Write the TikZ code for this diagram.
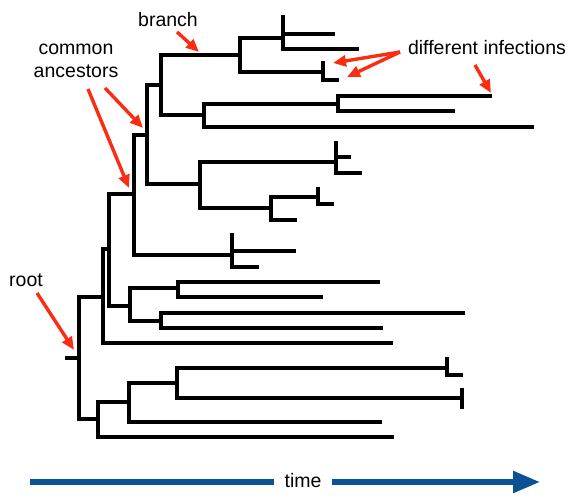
\documentclass[tikz,border=0pt]{standalone}
\usepackage{fontspec}
\setmainfont{Liberation Sans}
\usetikzlibrary{arrows.meta}
\definecolor{callred}{RGB}{250,45,18}
\definecolor{timeblue}{RGB}{10,82,148}
\tikzset{
  tree/.style={line width=3.3pt, line cap=rect, black},
  callout/.style={line width=3.4pt, callred, -{Triangle[length=13pt,width=11pt]}},
  timeline/.style={line width=5.5pt, timeblue},
  lbl/.style={font=\fontsize{19.5}{23}\selectfont, inner sep=0pt, anchor=base},
}
\begin{document}
\begin{tikzpicture}[x=1pt,y=-1pt]
\useasboundingbox (0,0) rectangle (578,502);
% ---------- tree coordinates ----------
\coordinate (r0) at (67,358);
\coordinate (R) at (79,358);
\coordinate (A) at (103,297);
\coordinate (B) at (109,249);
\coordinate (C) at (134,194);
\coordinate (D) at (147,135);
\coordinate (E) at (161,85);
\coordinate (F) at (240,55);
\coordinate (G) at (283,38);
\coordinate (g0) at (283,17);
\coordinate (g1) at (333,34);
\coordinate (g2) at (357,49);
\coordinate (H) at (323,72);
\coordinate (h0) at (323,63);
\coordinate (h1) at (337,80);
\coordinate (I) at (204,115);
\coordinate (J) at (338,104);
\coordinate (j1) at (490,96);
\coordinate (j2) at (453,111);
\coordinate (i2) at (532,127);
\coordinate (K) at (200,184);
\coordinate (L) at (336,162);
\coordinate (l0) at (336,143);
\coordinate (l1) at (349,157);
\coordinate (l2) at (360,173);
\coordinate (M) at (271,208);
\coordinate (N) at (318,197);
\coordinate (n0) at (318,189);
\coordinate (n1) at (332,204);
\coordinate (m2) at (295,220);
\coordinate (O) at (232,255);
\coordinate (o0) at (232,235);
\coordinate (o1) at (294,251);
\coordinate (o2) at (257,267);
\coordinate (P) at (130,306);
\coordinate (Q) at (178,288);
\coordinate (q1) at (378,282);
\coordinate (q2) at (321,297);
\coordinate (S) at (161,321);
\coordinate (s1) at (463,313);
\coordinate (s2) at (381,328);
\coordinate (a2) at (391,343);
\coordinate (T) at (98,419);
\coordinate (U) at (129,402);
\coordinate (V) at (177,383);
\coordinate (W) at (447,368);
\coordinate (w0) at (447,359);
\coordinate (w1) at (461,375);
\coordinate (X) at (462,398);
\coordinate (x0) at (462,390);
\coordinate (x1) at (462,407);
\coordinate (u2) at (380,422);
\coordinate (t2) at (392,437);
% ---------- tree drawing ----------
\draw[tree] (r0) -- (R);
\draw[tree] (R|-A) -- (R|-T) (R|-A) -- (A) (R|-T) -- (T);
\draw[tree] (A|-B) -- (A|-a2) (A|-B) -- (B) (A|-a2) -- (a2);
\draw[tree] (B|-C) -- (B|-P) (B|-C) -- (C) (B|-P) -- (P);
\draw[tree] (C|-D) -- (C|-O) (C|-D) -- (D) (C|-O) -- (O);
\draw[tree] (D|-E) -- (D|-K) (D|-E) -- (E) (D|-K) -- (K);
\draw[tree] (E|-F) -- (E|-I) (E|-F) -- (F) (E|-I) -- (I);
\draw[tree] (F|-G) -- (F|-H) (F|-G) -- (G) (F|-H) -- (H);
\draw[tree] (g0) -- (G|-g2) (G|-g1) -- (g1) (G|-g2) -- (g2);
\draw[tree] (h0) -- (H|-h1) (H|-h1) -- (h1);
\draw[tree] (I|-J) -- (I|-i2) (I|-J) -- (J) (I|-i2) -- (i2);
\draw[tree] (J|-j1) -- (J|-j2) (J|-j1) -- (j1) (J|-j2) -- (j2);
\draw[tree] (K|-L) -- (K|-M) (K|-L) -- (L) (K|-M) -- (M);
\draw[tree] (l0) -- (L|-l2) (L|-l1) -- (l1) (L|-l2) -- (l2);
\draw[tree] (M|-N) -- (M|-m2) (M|-N) -- (N) (M|-m2) -- (m2);
\draw[tree] (n0) -- (N|-n1) (N|-n1) -- (n1);
\draw[tree] (o0) -- (O|-o2) (O|-o1) -- (o1) (O|-o2) -- (o2);
\draw[tree] (P|-Q) -- (P|-S) (P|-Q) -- (Q) (P|-S) -- (S);
\draw[tree] (Q|-q1) -- (Q|-q2) (Q|-q1) -- (q1) (Q|-q2) -- (q2);
\draw[tree] (S|-s1) -- (S|-s2) (S|-s1) -- (s1) (S|-s2) -- (s2);
\draw[tree] (T|-U) -- (T|-t2) (T|-U) -- (U) (T|-t2) -- (t2);
\draw[tree] (U|-V) -- (U|-u2) (U|-V) -- (V) (U|-u2) -- (u2);
\draw[tree] (V|-W) -- (V|-X) (V|-W) -- (W) (V|-X) -- (X);
\draw[tree] (w0) -- (W|-w1) (W|-w1) -- (w1);
\draw[tree] (x0) -- (x1);
% ---------- labels ----------
\node[lbl] (branch) at (168,27) {branch};
\node[lbl] (common) at (76,55) {common};
\node[lbl] (ancestors) at (76,78) {ancestors};
\node[lbl] (diff) at (487,55) {different infections};
\node[lbl] (root) at (26,287) {root};
% ---------- callout arrows ----------
\coordinate (bt) at (177,32);   \coordinate (bh) at (199,52);
\coordinate (c1t) at (105,88);  \coordinate (c1h) at (143,128);
\coordinate (c2t) at (88,89);   \coordinate (c2h) at (129,188);
\coordinate (dt) at (400,52);
\coordinate (d1h) at (333,63);  \coordinate (d2h) at (347,77);
\coordinate (d3t) at (475,65);  \coordinate (d3h) at (491,93);
\coordinate (rt) at (37,293);   \coordinate (rh) at (74,350);
\draw[callout] (bt) -- (bh);
\draw[callout] (c1t) -- (c1h);
\draw[callout] (c2t) -- (c2h);
\draw[callout] (dt) -- (d1h);
\draw[callout] (dt) -- (d2h);
\draw[callout] (d3t) -- (d3h);
\draw[callout] (rt) -- (rh);
% ---------- time axis ----------
\node[font=\fontsize{19.5}{23}\selectfont, inner xsep=10pt, inner ysep=0pt] (time) at (303,481) {time};
\coordinate (tstart) at (30,482);
\coordinate (tend) at (540,482);
\draw[timeline] (tstart) -- (tstart -| time.west);
\draw[timeline, -{Triangle[length=27pt,width=21pt]}] (tend -| time.east) -- (tend);
\end{tikzpicture}
\end{document}
